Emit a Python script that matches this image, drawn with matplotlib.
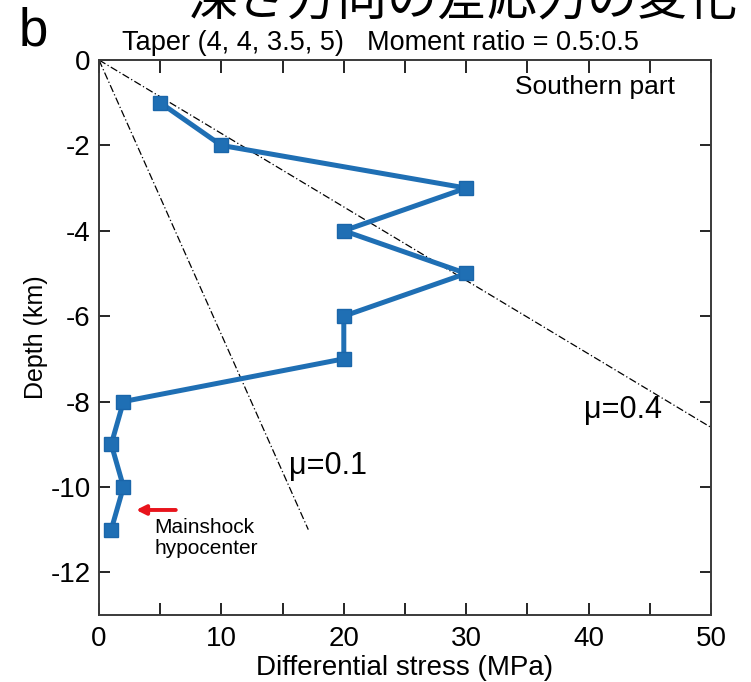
import matplotlib
matplotlib.use("Agg")
import matplotlib.pyplot as plt
import numpy as np

plt.rcParams['font.family'] = ['Liberation Sans', 'DejaVu Sans']
plt.rcParams['axes.unicode_minus'] = False

# Data
depth = [-1, -2, -3, -4, -5, -6, -7, -8, -9, -10, -11]
stress = [5, 10, 30, 20, 30, 20, 20, 2, 1, 2, 1]

mu04_x = [0, 58.1]
mu04_y = [0, -10]
mu01_x = [0, 17.1]
mu01_y = [0, -11]

xticks = [0, 5, 10, 15, 20, 25, 30, 35, 40, 45, 50]
xticklabels = ['0', '', '10', '', '20', '', '30', '', '40', '', '50']
yticks = [0, -2, -4, -6, -8, -10, -12]

W, H = 751, 682
fig = plt.figure(figsize=(W/100, H/100), dpi=100)
ax = fig.add_axes([99/W, 1-615/H, (711-99)/W, (615-60)/H])

ax.plot(mu04_x, mu04_y, color='black', lw=0.9, ls='-.', dashes=(6, 2, 1, 2))
ax.plot(mu01_x, mu01_y, color='black', lw=0.9, ls='-.', dashes=(6, 2, 1, 2))
ax.plot(stress, depth, color='#1f6fb4', lw=3.6, marker='s', ms=10,
        mfc='#1f6fb4', mec='#1a66aa', mew=1.0)

ax.set_xlim(0, 50)
ax.set_ylim(-13, 0)
ax.set_xticks(xticks)
ax.set_xticklabels(xticklabels)
ax.set_yticks(yticks)
ax.tick_params(which='both', direction='in', top=True, right=True, labelsize=20)
ax.tick_params(axis='x', which='major', length=9, width=1.2, pad=8)
ax.tick_params(axis='y', which='major', length=8, width=1.2, pad=6)
for s in ax.spines.values():
    s.set_linewidth(1.4)
    s.set_color('#3a3a3a')

ax.set_xlabel('Differential stress (MPa)', fontsize=20, labelpad=2)
ax.set_ylabel('Depth (km)', fontsize=18, labelpad=2)

ax.text(34, -0.63, 'Southern part', fontsize=19, va='center', ha='left')
ax.text(39.6, -8.2, 'μ=0.4', fontsize=22, va='center', ha='left')
ax.text(15.5, -9.5, 'μ=0.1', fontsize=22, va='center', ha='left')
ax.annotate('', xy=(2.8, -10.54), xytext=(6.5, -10.54),
            arrowprops=dict(arrowstyle='-|>', color='#e8141c', lw=2.8,
                            mutation_scale=14))
ax.text(4.5, -11.2, 'Mainshock\nhypocenter', fontsize=15, va='center',
        ha='left', linespacing=1.15)

fig.text(122/W, 1-43/H, 'Taper (4, 4, 3.5, 5)', fontsize=19.5,
         ha='left', va='center')
fig.text(639/W, 1-43/H, 'Moment ratio = 0.5:0.5', fontsize=19.5,
         ha='right', va='center')
fig.text(33/W, 1-31/H, 'b', fontsize=38, ha='center', va='center')
fig.text(462/W, 1-14/H, '深さ方向の差応力の変化', fontsize=36, ha='center',
         va='baseline', family=['Noto Sans CJK JP', 'DejaVu Sans'])

fig.savefig('out.png', dpi=100)
